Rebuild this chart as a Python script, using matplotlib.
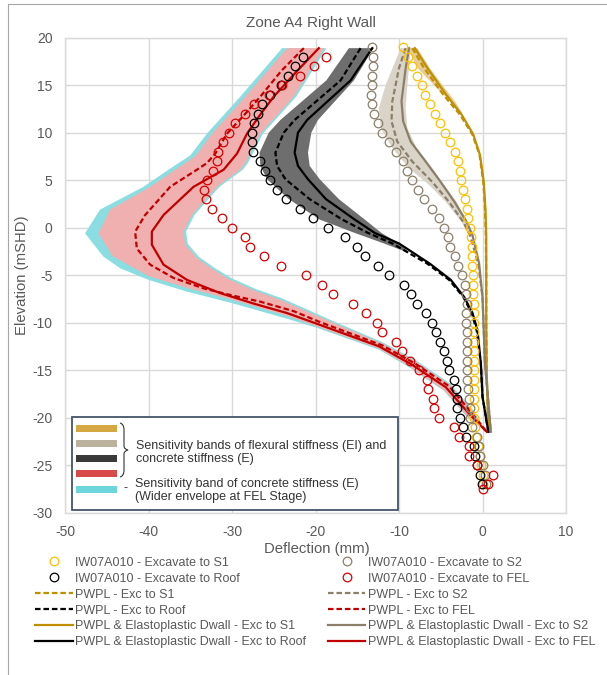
import matplotlib
matplotlib.use("Agg")
import matplotlib.pyplot as plt
from matplotlib.lines import Line2D
from matplotlib.patches import Rectangle
from matplotlib.path import Path
from matplotlib.patches import PathPatch

plt.rcParams['font.family'] = ['Liberation Sans', 'DejaVu Sans']
plt.rcParams['axes.unicode_minus'] = False

# ---------------- data ----------------
title = "Zone A4 Right Wall"
x_label = "Deflection (mm)"
y_label = "Elevation (mSHD)"
x_ticks = [-50, -40, -30, -20, -10, 0, 10]
y_ticks = [20, 15, 10, 5, 0, -5, -10, -15, -20, -25, -30]

# Inclinometer IW07A010 readings
s1_obs_y = list(range(19, -28, -1))
s1_obs_x = [-9.5, -8.9, -8.4, -7.8, -7.3, -6.85, -6.3, -5.7, -5.1, -4.45, -3.9, -3.35, -2.95, -2.75, -2.6,
            -2.35, -2.05, -1.85, -1.7, -1.45,
            -1.4, -1.3, -1.25, -1.2, -1.15, -1.1, -1.1, -1.05, -1.05, -1.05, -1.05, -1.05, -1.05, -1.05,
            -1.05, -1.0, -1.0, -1.0, -1.0, -1.0,
            -0.9, -0.8, -0.5, -0.35, -0.15, 0.0, 0.1]

s2_obs_y = list(range(19, -28, -1))
s2_obs_x = [-13.25, -13.15, -13.15, -13.2, -13.25, -13.35, -13.25, -13.05, -12.55, -12.0, -11.25, -10.4,
            -9.55, -9.0, -8.4, -7.75, -6.95, -6.05, -5.25, -4.6,
            -4.1, -3.9, -3.3, -2.95, -2.45, -2.15, -1.95, -1.9, -1.95, -1.95, -1.9, -1.85, -1.85, -1.85,
            -1.85, -1.8, -1.7, -1.65, -1.55, -1.45,
            -1.2, -0.7, -0.45, -0.3, 0.0, 0.3, 0.4]

roof_obs_y = list(range(18, -28, -1))
roof_obs_x = [-21.5, -22.4, -23.35, -24.1, -25.4, -26.4, -26.9, -27.4, -27.6, -27.65, -27.45, -26.7, -26.05,
              -25.5, -24.6, -23.5, -21.85, -20.3, -18.5,
              -16.5, -15.05, -14.1, -12.5, -11.25, -9.45, -8.6, -7.8, -6.8, -6.0, -5.55, -5.05, -4.65,
              -4.25, -4.0, -3.4, -3.15, -3.05, -3.05, -2.75,
              -2.35, -2.0, -1.05, -0.95, -0.65, -0.35, -0.1]

fel_obs_y = list(range(18, -28, -1)) + [-27.5]
fel_obs_x = [-18.8, -20.2, -21.8, -24.0, -25.6, -27.4, -28.5, -29.6, -30.4, -31.1, -31.7, -31.8, -32.3,
             -33.0, -33.4, -33.1, -32.4, -31.2, -30.0,
             -28.5, -27.85, -26.15, -24.1, -21.15, -19.2, -17.9, -15.5, -13.9, -12.65, -12.05, -10.3,
             -9.65, -8.65, -7.65, -6.65, -6.55, -5.95, -5.75, -5.15,
             -3.45, -2.8, -1.65, -1.65, -0.65, 1.2, 0.65, 0.05]

# PWPL (dashed) and PWPL & Elastoplastic Dwall (solid) predictions
s1_y = [18.9, 16.8, 14.0, 11.9, 9.8, 7.65, 4.8, 2.0, -0.8, -5.0, -10.0, -15.0, -21.5]
s1_pw_x = [-8.4, -7.0, -4.7, -2.7, -1.2, -0.35, 0.1, 0.3, 0.4, 0.45, 0.45, 0.5, 0.7]
s1_ep_x = [-8.1, -6.6, -4.35, -2.5, -1.1, -0.3, 0.15, 0.35, 0.45, 0.45, 0.45, 0.5, 0.7]

s2_y = [18.9, 16.8, 13.3, 11.2, 9.05, 6.95, 4.8, 2.7, 0.6, -0.8, -3.8, -7.3, -14.3, -21.5]
s2_pw_x = [-9.2, -10.0, -10.8, -10.9, -10.2, -8.4, -6.0, -4.0, -2.3, -1.5, -0.5, 0.0, 0.3, 1.0]
s2_ep_x = [-8.8, -9.2, -9.7, -9.5, -8.6, -6.8, -5.0, -3.35, -1.9, -1.2, -0.4, 0.0, 0.3, 1.0]

roof_y = [18.9, 15.5, 11.34, 10.0, 7.9, 6.5, 5.1, 3.0, 0.85, -0.56, -1.67, -3.8, -5.5, -7.3, -9.0, -10.8,
          -14.3, -17.8, -21.5]
roof_pw_x = [-14.6, -17.0, -22.5, -23.8, -24.8, -24.6, -23.6, -20.7, -16.8, -13.7, -10.8, -6.6, -4.0, -2.3,
             -1.3, -0.7, -0.2, 0.0, 0.7]
roof_ep_x = [-13.2, -15.8, -21.0, -22.1, -22.5, -22.1, -20.9, -18.75, -15.3, -12.9, -10.0, -6.3, -3.8, -2.2,
             -1.2, -0.6, -0.2, 0.0, 0.7]

fel_pw_y = [18.9, 16.5, 13.8, 11.8, 9.9, 7.8, 6.8, 6.1, 4.3, 1.33, -0.42, -2.2, -3.9, -5.3, -6.4, -7.1, -7.8,
            -8.8, -9.97, -12.4, -14.3, -16.7, -19.5, -21.5]
fel_pw_x = [-21.4, -24.1, -26.6, -28.6, -30.6, -32.0, -33.0, -34.2, -37.4, -40.4, -41.6, -41.4, -39.8, -37.0,
            -33.4, -30.2, -26.6, -22.6, -19.4, -12.0, -8.1, -4.0, -1.3, 0.5]
fel_ep_y = [18.9, 16.5, 13.8, 11.8, 9.9, 7.8, 6.1, 4.3, 1.33, -0.42, -1.8, -3.9, -5.5, -6.9, -8.0, -9.0,
            -10.07, -12.5, -14.4, -16.8, -19.6, -21.5]
fel_ep_x = [-19.6, -22.2, -25.0, -26.7, -28.2, -29.4, -31.0, -34.6, -38.2, -39.6, -39.6, -38.2, -35.4, -31.4,
            -27.4, -23.4, -20.0, -12.4, -8.5, -4.4, -1.6, 0.5]

# Sensitivity bands (outer edge then inner edge)
s1_band_x = [-8.9, -7.8, -5.8, -3.9, -2.8, -2.4, -3.3, -4.8, -6.3, -7.8]
s1_band_y = [18.9, 16.8, 15.0, 13.3, 12.0, 12.0, 13.3, 15.0, 16.8, 18.9]

s2_band_x = [-9.8, -11.6, -12.4, -12.2, -10.8, -8.8, -6.4, -4.4, -2.5, -1.6,
             -1.1, -1.8, -3.1, -4.6, -6.0, -7.9, -9.0, -9.2, -9.0, -8.6]
s2_band_y = [18.9, 15.0, 12.6, 10.5, 8.4, 6.25, 4.5, 2.7, 0.6, -0.8,
             -0.8, 0.6, 2.7, 4.5, 6.25, 8.4, 10.5, 12.6, 15.0, 18.9]

roof_band_x = [-16.0, -18.7, -24.2, -25.6, -26.7, -26.6, -25.8, -23.2, -19.5, -15.3, -11.8, -9.0,
               -8.8, -10.0, -12.1, -14.1, -17.2, -19.5, -20.7, -20.9, -20.5, -19.7, -15.4, -13.05]
roof_band_y = [18.9, 15.5, 11.34, 10.0, 7.9, 6.5, 5.1, 3.0, 0.85, -0.56, -1.67, -2.6,
               -2.6, -1.67, -0.56, 0.85, 3.0, 5.1, 6.5, 7.9, 10.0, 11.34, 15.5, 18.9]

fel_band_x = [-23.4, -28.4, -32.4, -34.3, -35.6, -36.8, -39.8, -44.6, -46.0, -44.3, -40.0, -35.4, -30.0,
              -23.4, -20.0, -12.4, -8.6, -4.6, -1.8, 0.5,
              -1.2, -4.0, -8.2, -12.0, -18.2, -21.0, -24.2, -27.4, -30.2, -32.2, -34.2, -35.6, -35.8,
              -34.8, -31.8, -29.0, -28.4, -26.6, -22.6, -19.0]
fel_band_y = [18.9, 13.8, 9.9, 7.6, 6.8, 6.1, 4.3, 1.9, -0.6, -3.0, -5.1, -6.35, -7.6,
              -9.3, -10.35, -12.75, -14.7, -17.1, -19.9, -21.5,
              -19.3, -16.5, -14.0, -12.2, -9.9, -8.84, -7.6, -6.6, -5.5, -4.45, -3.2, -1.8, -0.42,
              1.33, 4.3, 6.1, 6.8, 9.9, 13.8, 18.9]

wide_band_x = [-24.0, -29.0, -33.0, -35.0, -36.4, -37.6, -40.6, -45.8, -47.6, -45.4, -43.4, -40.0, -35.4,
               -30.0, -23.4, -20.0, -12.4, -8.6, -4.6, -1.8, 0.5,
               -1.1, -3.9, -8.1, -11.9, -18.0, -20.8, -24.0, -27.2, -30.0, -32.0, -34.0, -35.3, -35.5,
               -34.5, -31.5, -28.7, -28.1, -26.3, -22.3, -18.7]
wide_band_y = [18.9, 13.8, 9.9, 7.6, 6.8, 6.1, 4.3, 1.9, -0.6, -3.05, -4.28, -5.5, -6.74,
               -7.95, -9.6, -10.5, -12.85, -14.8, -17.2, -20.0, -21.5,
               -19.25, -16.4, -13.9, -12.1, -9.8, -8.7, -7.45, -6.45, -5.35, -4.3, -3.05, -1.7, -0.4,
               1.33, 4.3, 6.1, 6.8, 9.9, 13.8, 18.9]

obs_labels = ["IW07A010 - Excavate to S1", "IW07A010 - Excavate to Roof",
              "IW07A010 - Excavate to S2", "IW07A010 - Excavate to FEL"]
pw_labels = ["PWPL - Exc to S1", "PWPL - Exc to Roof", "PWPL - Exc to S2", "PWPL - Exc to FEL"]
ep_labels = ["PWPL & Elastoplastic Dwall - Exc to S1", "PWPL & Elastoplastic Dwall - Exc to Roof",
             "PWPL & Elastoplastic Dwall - Exc to S2", "PWPL & Elastoplastic Dwall - Exc to FEL"]
box_text_1 = "Sensitivity bands of flexural stiffness (EI) and\nconcrete stiffness (E)"
box_text_2 = "Sensitivity band of concrete stiffness (E)\n(Wider envelope at FEL Stage)"

# ---------------- styling ----------------
C_S1_LINE = '#BF8F00'
C_S1_OBS = '#FFC000'
C_S2 = '#8B7F6A'
C_ROOF = '#000000'
C_FEL = '#C00000'
C_FEL_OBS = '#D40000'
TXT = '#595959'
GRID = '#D9D9D9'

W, H = 607, 675
fig = plt.figure(figsize=(W / 100, H / 100), dpi=100)


def fx(px):
    return px / W


def fy(py):
    return 1 - py / H


ax = fig.add_axes([fx(65), fy(512.5), fx(566) - fx(65), fy(37.7) - fy(512.5)])
ax.set_xlim(-50, 10)
ax.set_ylim(-30, 20)
ax.set_xticks(x_ticks)
ax.set_yticks(y_ticks)
ax.grid(True, color=GRID, lw=1.0, zorder=0)
ax.set_axisbelow(True)
for s in ax.spines.values():
    s.set_color(GRID)
    s.set_linewidth(1.0)
ax.tick_params(length=0, colors=TXT, labelsize=10, pad=9)
for lab in ax.get_xticklabels() + ax.get_yticklabels():
    lab.set_color(TXT)

# bands
ax.fill(wide_band_x, wide_band_y, color='#8ADDE0', lw=0, zorder=1)
ax.fill(fel_band_x, fel_band_y, color='#F1B0B0', lw=0, zorder=1.1)
ax.fill(roof_band_x, roof_band_y, color='#6E6E6E', lw=0, zorder=1.2)
ax.fill(s2_band_x, s2_band_y, color='#DAD4C8', lw=0, zorder=1.2)
ax.fill(s1_band_x, s1_band_y, color='#E6CC92', lw=0, zorder=1.2)

dash = (2.5, 1.3)
lw = 1.6
l_s1_pw, = ax.plot(s1_pw_x, s1_y, color=C_S1_LINE, lw=lw, ls=(0, dash), zorder=3)
l_s2_pw, = ax.plot(s2_pw_x, s2_y, color=C_S2, lw=lw, ls=(0, dash), zorder=3)
l_roof_pw, = ax.plot(roof_pw_x, roof_y, color=C_ROOF, lw=lw, ls=(0, dash), zorder=3)
l_fel_pw, = ax.plot(fel_pw_x, fel_pw_y, color=C_FEL, lw=lw, ls=(0, dash), zorder=3)
l_s1_ep, = ax.plot(s1_ep_x, s1_y, color=C_S1_LINE, lw=lw, zorder=3)
l_s2_ep, = ax.plot(s2_ep_x, s2_y, color=C_S2, lw=lw, zorder=3)
l_roof_ep, = ax.plot(roof_ep_x, roof_y, color=C_ROOF, lw=lw, zorder=3)
l_fel_ep, = ax.plot(fel_ep_x, fel_ep_y, color=C_FEL, lw=lw, zorder=3)

mk = dict(ls='none', marker='o', ms=6.2, mfc='none', mew=0.9, zorder=4)
o_s1, = ax.plot(s1_obs_x, s1_obs_y, mec=C_S1_OBS, **mk)
o_s2, = ax.plot(s2_obs_x, s2_obs_y, mec=C_S2, **mk)
o_roof, = ax.plot(roof_obs_x, roof_obs_y, mec=C_ROOF, **mk)
o_fel, = ax.plot(fel_obs_x, fel_obs_y, mec=C_FEL_OBS, **mk)

fig.text(fx(311), fy(23.5), title, fontsize=11, color=TXT, ha='center', va='center')
fig.text(fx(317), fy(549), x_label, fontsize=10.7, color=TXT, ha='center', va='center')
fig.text(fx(22), fy(275), y_label, fontsize=10.7, color=TXT, ha='center', va='center', rotation=90)

# bottom legend
handles = [o_s1, o_roof, l_s1_pw, l_roof_pw, l_s1_ep, l_roof_ep,
           o_s2, o_fel, l_s2_pw, l_fel_pw, l_s2_ep, l_fel_ep]
labels = [obs_labels[0], obs_labels[1], pw_labels[0], pw_labels[1], ep_labels[0], ep_labels[1],
          obs_labels[2], obs_labels[3], pw_labels[2], pw_labels[3], ep_labels[2], ep_labels[3]]
leg = fig.legend(handles, labels, loc='upper left', bbox_to_anchor=(fx(35), fy(556.5)),
                 ncol=2, frameon=False, fontsize=9, handlelength=3.0, handletextpad=0.2,
                 columnspacing=1.75, labelspacing=0.32, borderpad=0, borderaxespad=0)
for t in leg.get_texts():
    t.set_color(TXT)

# inner legend box
fig.add_artist(Rectangle((fx(71.7), fy(510)), fx(398.3) - fx(71.7), fy(416.7) - fy(510),
                         transform=fig.transFigure, facecolor='white', edgecolor='#44546A', lw=1.3,
                         zorder=5))
sw_colors = ['#D6A843', '#BBB19C', '#3A3A3A', '#D84A4A', '#6CD6DA']
sw_rows = [428.3, 443.3, 458.3, 473.3, 489.0]
for c, r in zip(sw_colors, sw_rows):
    fig.add_artist(Rectangle((fx(76), fy(r + 3.5)), fx(117) - fx(76), fy(r - 3.5) - fy(r + 3.5),
                             transform=fig.transFigure, facecolor=c, edgecolor='none', zorder=6, lw=0))
verts = [(120, 423), (124, 424), (124, 430), (124, 446), (124, 449), (128, 450),
         (124, 451), (124, 454), (124, 470), (124, 476), (120, 477)]
codes = [Path.MOVETO, Path.CURVE3, Path.CURVE3, Path.LINETO, Path.CURVE3, Path.CURVE3,
         Path.CURVE3, Path.CURVE3, Path.LINETO, Path.CURVE3, Path.CURVE3]
brace = Path([(fx(a), fy(b)) for a, b in verts], codes)
fig.add_artist(PathPatch(brace, transform=fig.transFigure, fill=False, edgecolor='#333333', lw=0.8,
                         zorder=6))
fig.text(fx(136), fy(452.5), box_text_1, fontsize=9, color='#333333', ha='left', va='center',
         linespacing=1.15, zorder=7)
fig.text(fx(125), fy(488), "-", fontsize=9, color='#333333', ha='center', va='center', zorder=7)
fig.text(fx(135), fy(490.5), box_text_2, fontsize=9, color='#333333', ha='left', va='center',
         linespacing=1.15, zorder=7)

# outer chart frame
fig.add_artist(Line2D([fx(7.5), fx(7.5)], [0, fy(4)], transform=fig.transFigure, color='#A6A6A6', lw=0.8))
fig.add_artist(Line2D([fx(7.5), 1], [fy(4), fy(4)], transform=fig.transFigure, color='#A6A6A6', lw=0.8))

fig.savefig("out.png", dpi=100)
